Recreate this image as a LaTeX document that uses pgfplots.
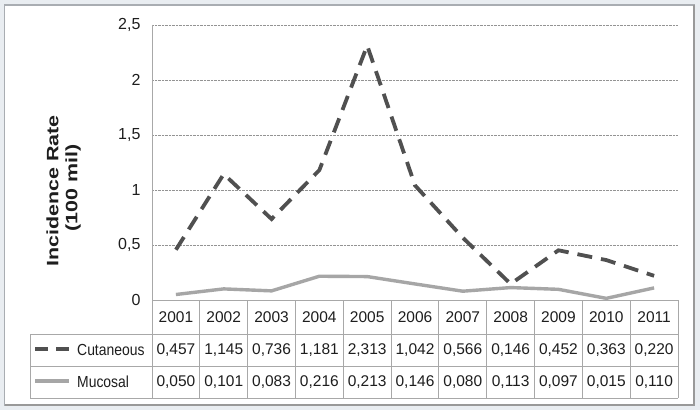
\documentclass[border=0pt]{standalone}
\usepackage{pgfplots}
\pgfplotsset{compat=1.18}
\usepackage{fontspec}
\setmainfont{Liberation Sans}
\definecolor{bg}{HTML}{E9EDF1}
\definecolor{frame}{HTML}{A9ADB2}
\definecolor{cutc}{HTML}{505050}
\definecolor{mucc}{HTML}{A6A6A6}
\definecolor{tabl}{HTML}{A8A8A8}
\definecolor{txt}{HTML}{1E1E1E}
\begin{document}
\begin{tikzpicture}[x=1pt,y=1pt]
\fill[bg] (0,0) rectangle (700,410);
\filldraw[fill=white, draw=frame, line width=1.2pt] (4.5,5) rectangle (694,405);
\draw[gray!80, line width=1.2pt] (694,405) -- (694,5) -- (4.5,5);
\begin{axis}[at={(152pt,110pt)}, anchor=south west,
  width=526pt, height=275pt, scale only axis,
  xmin=0.5, xmax=11.5, ymin=0, ymax=2.5,
  xtick=\empty, ytick={0,0.5,1,1.5,2,2.5},
  ymajorgrids, grid style={densely dotted, gray!85, line width=0.8pt},
  axis line style={draw=none}, major tick length=0,
  /pgf/number format/.cd, use comma, assume math mode=true, /pgfplots/.cd,
  yticklabel style={font=\fontsize{16}{19}\selectfont, text=txt, xshift=-8pt},
  clip=false]
\addplot[mucc, line width=3.4pt, line join=round] coordinates {
 (1,0.050) (2,0.101) (3,0.083) (4,0.216) (5,0.213) (6,0.146) (7,0.080) (8,0.113) (9,0.097) (10,0.015) (11,0.110)};
\addplot[cutc, line width=3.8pt, dash pattern=on 15pt off 9pt] coordinates {
 (1,0.457) (2,1.145) (3,0.736) (4,1.181) (5,2.313) (6,1.042) (7,0.566) (8,0.146) (9,0.452) (10,0.363) (11,0.220)};
\end{axis}
% table grid
\draw[tabl, line width=0.9pt] (152,385) -- (152,12);
\draw[tabl, line width=0.9pt] (152,110) -- (678,110);
\draw[tabl, line width=0.9pt] (30,76) -- (678,76);
\draw[tabl, line width=0.9pt] (30,44) -- (678,44);
\draw[tabl, line width=0.9pt] (30,12) -- (678,12);
\draw[tabl, line width=0.9pt] (30,76) -- (30,12);
\foreach \i in {1,...,11} {\draw[tabl, line width=0.9pt] ({152+\i*47.818},110) -- ({152+\i*47.818},12);}
\foreach \y [count=\i] in {2001,2002,2003,2004,2005,2006,2007,2008,2009,2010,2011}
  {\node[text=txt, font=\fontsize{15.5}{18}\selectfont] at ({152+(\i-0.5)*47.818},93) {\y};}
\foreach \v [count=\i] in {0.457,1.145,0.736,1.181,2.313,1.042,0.566,0.146,0.452,0.363,0.220}
  {\node[text=txt, font=\fontsize{15.5}{18}\selectfont] at ({152+(\i-0.5)*47.818},60) {\pgfmathprintnumber[fixed,fixed zerofill,precision=3,use comma,assume math mode=true]{\v}};}
\foreach \v [count=\i] in {0.050,0.101,0.083,0.216,0.213,0.146,0.080,0.113,0.097,0.015,0.110}
  {\node[text=txt, font=\fontsize{15.5}{18}\selectfont] at ({152+(\i-0.5)*47.818},28) {\pgfmathprintnumber[fixed,fixed zerofill,precision=3,use comma,assume math mode=true]{\v}};}
% legend keys
\draw[cutc, line width=3.8pt, dash pattern=on 13pt off 8pt] (35,61) -- (69,61);
\draw[mucc, line width=3.4pt] (35,29) -- (69,29);
\node[anchor=west, inner sep=0, text=txt, font=\fontsize{16}{19}\selectfont] at (77,60) {\scalebox{0.87}[1]{Cutaneous}};
\node[anchor=west, inner sep=0, text=txt, font=\fontsize{16}{19}\selectfont] at (77,28) {\scalebox{0.87}[1]{Mucosal}};
% y label
\node[rotate=90, inner sep=0, text=txt, font=\bfseries\fontsize{16.5}{20}\selectfont] at (52.5,219) {\scalebox{1.3}[1]{Incidence Rate}};
\node[rotate=90, inner sep=0, text=txt, font=\bfseries\fontsize{16.5}{20}\selectfont] at (73,222) {\scalebox{1.3}[1]{(100 mil)}};
\end{tikzpicture}
\end{document}
